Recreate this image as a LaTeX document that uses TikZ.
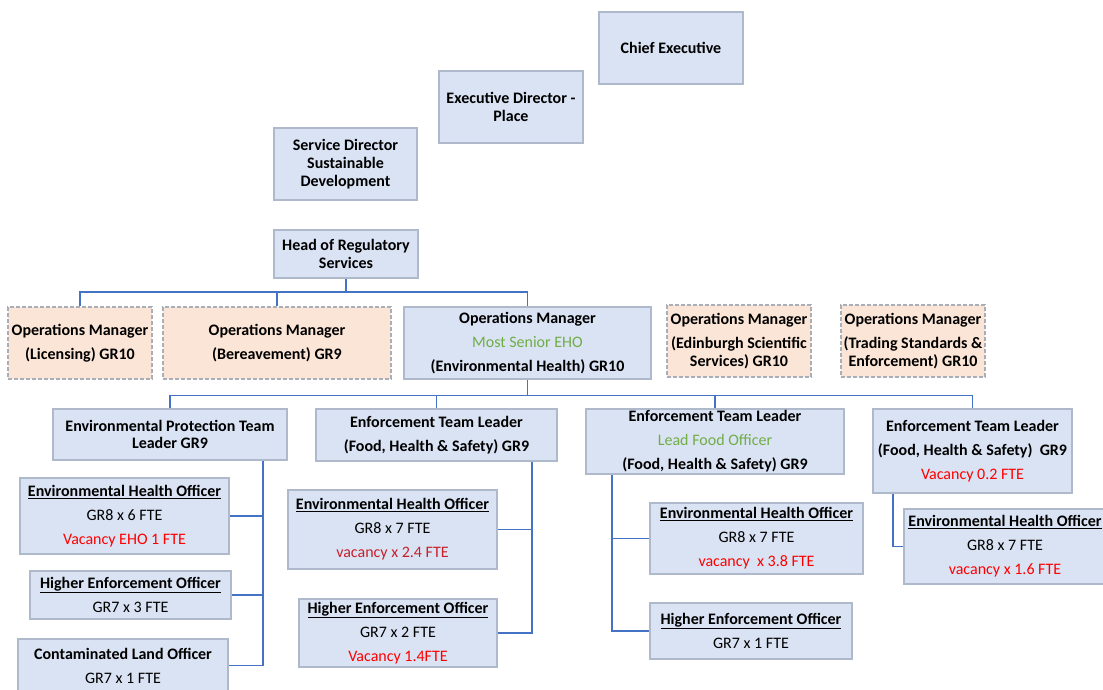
\documentclass[tikz,border=0pt]{standalone}
\usepackage{fontspec}
\setmainfont{Carlito}
\definecolor{boxfill}{HTML}{DAE3F3}
\definecolor{boxline}{HTML}{AEB9CC}
\definecolor{peach}{HTML}{FBE5D6}
\definecolor{peachline}{HTML}{A9AFB8}
\definecolor{conn}{HTML}{4472C4}
\definecolor{grn}{HTML}{70AD47}
\definecolor{vac}{HTML}{FF0000}
\definecolor{vacdark}{HTML}{C8202A}
\begin{document}
\begin{tikzpicture}[x=1pt,y=-1pt,
  box/.style={draw=boxline, fill=boxfill, line width=1.5pt, inner sep=0pt, align=center,
    font=\fontsize{16}{24}\selectfont},
  opbox/.style={draw=peachline, fill=peach, line width=1.5pt, dash pattern=on 4pt off 2pt,
    inner sep=0pt, align=center, font=\fontsize{16}{24}\selectfont},
  tight/.style={font=\fontsize{16}{18}\selectfont},
  wire/.style={draw=conn, line width=1.8pt}]
\useasboundingbox (0,0) rectangle (1103,689);

% top chain
\node[box,tight,minimum width=144,minimum height=72] (ce) at (671,48) {\bfseries Chief Executive};
\node[box,tight,minimum width=144,minimum height=72] (ed) at (511,107) {\bfseries Executive Director -\\\bfseries Place};
\node[box,tight,minimum width=143,minimum height=72] (sd) at (345.5,164) {\bfseries Service Director\\\bfseries Sustainable\\\bfseries Development};
\node[box,tight,minimum width=144,minimum height=48] (hrs) at (346,254) {\bfseries Head of Regulatory\\\bfseries Services};

% operations managers
\node[opbox,minimum width=144,minimum height=72] (lic) at (80,343) {\bfseries Operations Manager\\\bfseries (Licensing) GR10};
\node[opbox,minimum width=228,minimum height=72] (ber) at (277,343) {\bfseries Operations Manager\\\bfseries (Bereavement) GR9};
\node[box,minimum width=247,minimum height=72] (ehm) at (527.5,343) {\bfseries Operations Manager\\\textcolor{grn}{Most Senior EHO}\\\bfseries (Environmental Health) GR10};
\node[opbox,tight,minimum width=144,minimum height=72] (esc) at (739,341) {\bfseries Operations Manager\\[6pt]\bfseries (Edinburgh Scientific\\\bfseries Services) GR10};
\node[opbox,tight,minimum width=144,minimum height=72] (tse) at (913,341) {\bfseries Operations Manager\\[6pt]\bfseries (Trading Standards \&\\\bfseries Enforcement) GR10};

% team leaders
\node[box,font=\fontsize{16}{17}\selectfont,minimum width=234,minimum height=51] (eptl) at (170,434.5) {\bfseries Environmental Protection Team\\\bfseries Leader GR9};
\node[box,minimum width=241,minimum height=52] (fhs1) at (436.5,435) {\bfseries Enforcement Team Leader\\\bfseries (Food, Health \& Safety) GR9};
\node[box,minimum width=258,minimum height=65] (lfo) at (715,441.5) {\bfseries Enforcement Team Leader\\\textcolor{grn}{Lead Food Officer}\\\bfseries (Food, Health \& Safety) GR9};
\node[box,minimum width=199,minimum height=84] (fhs2) at (972.5,451) {\bfseries Enforcement Team Leader\\\bfseries (Food, Health \& Safety)\ \ GR9\\\textcolor{vac}{Vacancy 0.2 FTE}};

% officers
\node[box,minimum width=209,minimum height=76] (eho1) at (124.5,516) {\bfseries\underline{Environmental Health Officer}\\GR8 x 6 FTE\\\textcolor{vac}{Vacancy EHO 1 FTE}};
\node[box,minimum width=201,minimum height=48] (heo1) at (130.5,595) {\bfseries\underline{Higher Enforcement Officer}\\GR7 x 3 FTE};
\node[box,minimum width=210,minimum height=53] (clo) at (123,665.5) {\bfseries Contaminated Land Officer\\GR7 x 1 FTE};

\node[box,minimum width=209,minimum height=79] (eho2) at (392.5,529.5) {\bfseries\underline{Environmental Health Officer}\\GR8 x 7 FTE\\\textcolor{vacdark}{vacancy x 2.4 FTE}};
\node[box,minimum width=198,minimum height=68] (heo2) at (398,633) {\bfseries\underline{Higher Enforcement Officer}\\GR7 x 2 FTE\\\textcolor{vac}{Vacancy 1.4FTE}};

\node[box,minimum width=213,minimum height=71] (eho3) at (756.5,538.5) {\bfseries\underline{Environmental Health Officer}\\GR8 x 7 FTE\\\textcolor{vac}{vacancy\ \ x 3.8 FTE}};
\node[box,minimum width=202,minimum height=56] (heo3) at (751,631) {\bfseries\underline{Higher Enforcement Officer}\\GR7 x 1 FTE};

\node[box,minimum width=202,minimum height=75] (eho4) at (1005,546.5) {\bfseries\underline{Environmental Health Officer}\\GR8 x 7 FTE\\\textcolor{vac}{vacancy x 1.6 FTE}};

% bus coordinates
\coordinate (busA) at (0,292);
\coordinate (busB) at (0,395.5);
\coordinate (tL) at (263,0);
\coordinate (tM) at (532,0);
\coordinate (tR) at (612,0);
\coordinate (tRR) at (893,0);

% connectors
\draw[wire] (hrs.south) -- (hrs.south |- busA) -| (lic.north);
\draw[wire] (hrs.south |- busA) -| (ber.north);
\draw[wire] (hrs.south |- busA) -| (ehm.north);

\draw[wire] (ehm.south) -- (ehm.south |- busB) -| (eptl.north);
\draw[wire] (ehm.south |- busB) -| (fhs1.north);
\draw[wire] (ehm.south |- busB) -| (lfo.north);
\draw[wire] (ehm.south |- busB) -| (fhs2.north);

\draw[wire] (eptl.south -| tL) |- (eho1.east);
\draw[wire] (eptl.south -| tL) |- (heo1.east);
\draw[wire] (eptl.south -| tL) |- (clo.east);

\draw[wire] (fhs1.south -| tM) |- (eho2.east);
\draw[wire] (fhs1.south -| tM) |- (heo2.east);

\draw[wire] (lfo.south -| tR) |- (eho3.west);
\draw[wire] (lfo.south -| tR) |- (heo3.west);

\draw[wire] (fhs2.south -| tRR) |- (eho4.west);
\end{tikzpicture}
\end{document}
